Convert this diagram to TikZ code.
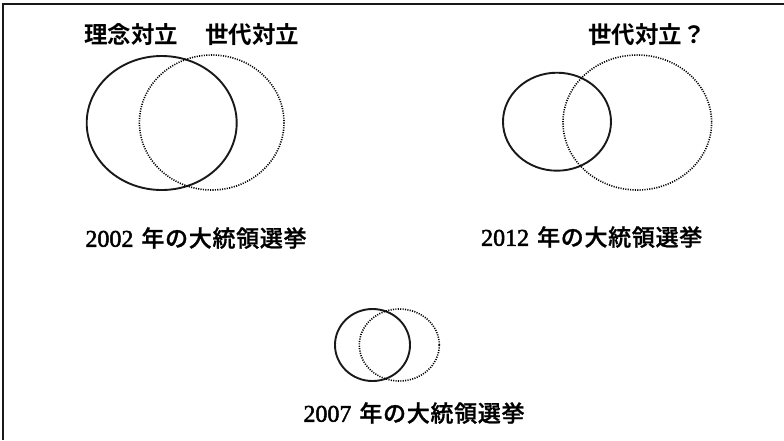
\documentclass[tikz,border=0pt]{standalone}
\usepackage{fontspec}
\setmainfont{Liberation Serif}
\newfontfamily\digitfont{Liberation Serif}[FakeBold=2]
\newfontfamily\cjk{Noto Sans CJK JP Bold}
\newfontfamily\cjkyear{Noto Sans CJK JP Medium}[LetterSpace=3, FakeBold=1]
\tikzset{
  solidring/.style={draw=black!90, line width=1.9pt},
  dotring/.style={draw=black, line width=1.6pt, dash pattern=on 1.1pt off 1.3pt},
  toplabel/.style={font=\cjk\fontsize{23.5}{26}\selectfont, inner sep=0pt},
  yearlabel/.style={font=\digitfont\fontsize{24}{26}\selectfont, inner sep=0pt},
  frameline/.style={draw=black!90, line width=1.3pt}
}
\newcommand{\yearkanji}{\hspace{8pt}{\cjkyear\fontsize{23}{26}\selectfont 年の大統領選挙}}
\begin{document}
\begin{tikzpicture}[x=1pt,y=-1pt]
\useasboundingbox (0,0) rectangle (784,440);
\coordinate (tl) at (3,4);
\coordinate (tr) at (784,4);
\coordinate (bl) at (3,440);
\draw[frameline] (tr) -- (tl) -- (bl);

% 2002
\draw[solidring] (161.7,123) ellipse [x radius=75, y radius=67];
\draw[dotring] (211.7,122.5) ellipse [x radius=72.3, y radius=67.5];
\node[toplabel] (ideo) at (131,35) {理念対立};
\node[toplabel] (gen1) at (252,35) {世代対立};
\node[yearlabel] (y2002) at (196,238) {2002\yearkanji};

% 2012
\draw[solidring] (557,121.7) ellipse [x radius=54, y radius=49];
\draw[dotring] (637.3,122.5) ellipse [x radius=74.3, y radius=67.5];
\node[toplabel] (gen2) at (647,35) {世代対立？};
\node[yearlabel] (y2012) at (591.7,237) {2012\yearkanji};

% 2007
\draw[solidring] (372.5,345) ellipse [x radius=37.5, y radius=36];
\draw[dotring] (399.3,345) ellipse [x radius=40, y radius=36];
\node[yearlabel] (y2007) at (414,413) {2007\yearkanji};
\end{tikzpicture}
\end{document}
